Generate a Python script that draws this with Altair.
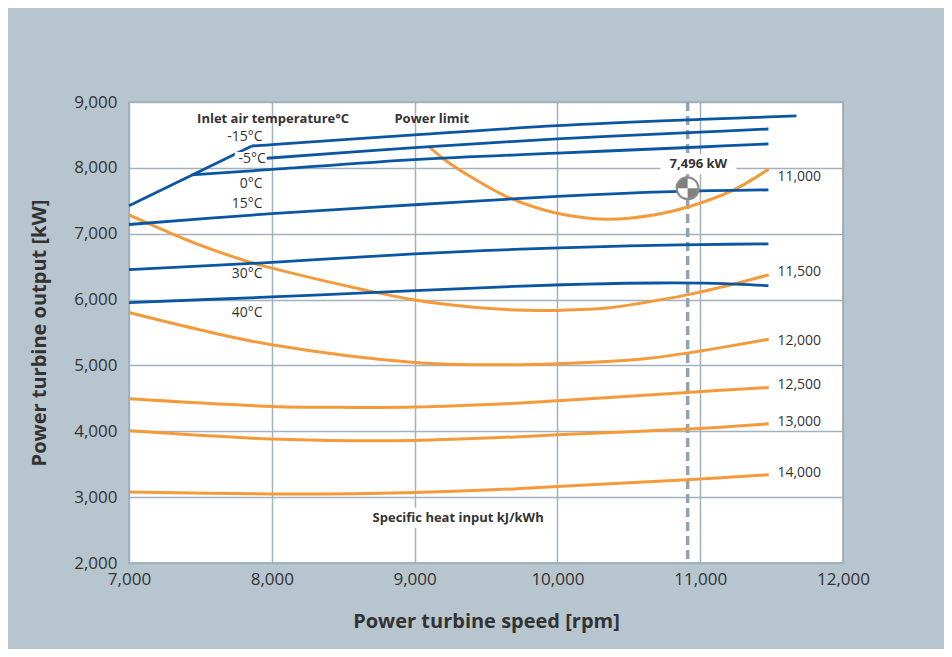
import altair as alt
import pandas as pd

# ---------------- data ----------------
# Low-temperature power limit segment (rpm, kW)
limit_rpm = [7000, 7860]
limit_kw = [7426, 8332]

# Inlet air temperature lines: power turbine speed [rpm] vs output [kW]
temp_names = ["-15°C", "-5°C", "0°C", "15°C", "30°C", "40°C"]
temp_rpm = [
    [7860, 8000, 9000, 10000, 11000, 11674],
    [7965, 9000, 10000, 11000, 11478],
    [7439, 8000, 9000, 10000, 11000, 11478],
    [7000, 8000, 9000, 10000, 10800, 11478],
    [7000, 8000, 9000, 9740, 10500, 11000, 11478],
    [7000, 8000, 9000, 9700, 10200, 10700, 11100, 11478],
]
temp_kw = [
    [8332, 8352, 8500, 8640, 8735, 8788],
    [8146, 8306, 8440, 8542, 8590],
    [7892, 7976, 8126, 8223, 8317, 8363],
    [7140, 7305, 7440, 7567, 7638, 7665],
    [6455, 6565, 6695, 6765, 6815, 6835, 6845],
    [5955, 6040, 6135, 6200, 6235, 6252, 6246, 6212],
]

# Specific heat input curves [kJ/kWh]
heat_names = ["11,000", "11,500", "12,000", "12,500", "13,000", "14,000"]
heat_rpm = [
    [9097, 9203, 9367, 9670, 9997, 10347, 10674, 10908, 11235, 11480],
    [7000, 7474, 7871, 8000, 8666, 9000, 9413, 9647, 9880, 10000, 10347, 10581, 10908, 11165, 11480],
    [7000, 7474, 8000, 9000, 9600, 10000, 10534, 10908, 11480],
    [7000, 8000, 8572, 9000, 9700, 10000, 10908, 11480],
    [7000, 8000, 8572, 9000, 9700, 10000, 10908, 11480],
    [7000, 8000, 8572, 9000, 9700, 10000, 10908, 11480],
]
heat_kw = [
    [8332, 8135, 7900, 7539, 7311, 7220, 7285, 7402, 7665, 7983],
    [7285, 6845, 6552, 6477, 6138, 5995, 5885, 5848, 5833, 5835, 5871, 5945, 6071, 6198, 6375],
    [5803, 5552, 5313, 5044, 5009, 5024, 5085, 5187, 5399],
    [4493, 4378, 4363, 4367, 4425, 4463, 4590, 4665],
    [4007, 3881, 3856, 3861, 3915, 3947, 4033, 4113],
    [3077, 3047, 3052, 3072, 3125, 3163, 3264, 3340],
]

# Curve end labels
heat_label_rpm = [11541, 11541, 11541, 11541, 11541, 11541]
heat_label_kw = [7864, 6420, 5373, 4706, 4144, 3370]

# Temperature labels
temp_label_rpm = [7936, 7958, 7936, 7936, 7936, 7936]
temp_label_kw = [8470, 8135, 7751, 7452, 6390, 5793]

# Annotations
header_texts = ["Inlet air temperature°C", "Power limit"]
header_rpm = [8009, 9120]
header_kw = [8740, 8740]

design_rpm = [10912]
design_kw = [7690]
design_text = ["7,496 kW"]
design_text_rpm = [10987]
design_text_kw = [8054]

sfc_text = ["Specific heat input kJ/kWh"]
sfc_rpm = [9305]
sfc_kw = [2687]

x_ticks = [7000, 8000, 9000, 10000, 11000, 12000]
y_ticks = [2000, 3000, 4000, 5000, 6000, 7000, 8000, 9000]

# ---------------- tables ----------------
rows = []
for n, xs, ys in zip(temp_names, temp_rpm, temp_kw):
    for i, (a, b) in enumerate(zip(xs, ys)):
        rows.append({"series": n, "rpm": a, "kw": b, "i": i})
temp_df = pd.DataFrame(rows)
limit_df = pd.DataFrame({"rpm": limit_rpm, "kw": limit_kw})

rows = []
for n, xs, ys in zip(heat_names, heat_rpm, heat_kw):
    for i, (a, b) in enumerate(zip(xs, ys)):
        rows.append({"series": n, "rpm": a, "kw": b, "i": i})
heat_df = pd.DataFrame(rows)

heat_lab_df = pd.DataFrame({"t": heat_names, "rpm": heat_label_rpm, "kw": heat_label_kw})
temp_lab_df = pd.DataFrame({"t": temp_names, "rpm": temp_label_rpm, "kw": temp_label_kw})
header_df = pd.DataFrame({"t": header_texts, "rpm": header_rpm, "kw": header_kw})
design_df = pd.DataFrame({"rpm": design_rpm, "kw": design_kw})
design_lab_df = pd.DataFrame({"t": design_text, "rpm": design_text_rpm, "kw": design_text_kw})
sfc_df = pd.DataFrame({"t": sfc_text, "rpm": sfc_rpm, "kw": sfc_kw})

FONT = "Open Sans"
TXT = "#333333"
BLUE = "#0b56a2"
ORANGE = "#f59a3a"
GRID = "#a2b2bd"

xscale = alt.Scale(domain=[7000, 12000], nice=False, zero=False)
yscale = alt.Scale(domain=[2000, 9000], nice=False, zero=False)

X = alt.X(
    "rpm:Q", scale=xscale,
    axis=alt.Axis(
        values=x_ticks, format=",.0f", grid=True, gridColor=GRID, gridWidth=1.5,
        domain=False, ticks=False, labelFont=FONT, labelFontSize=17, labelColor=TXT,
        labelPadding=8, labelFlush=False,
        title="Power turbine speed [rpm]", titleFont=FONT, titleFontSize=20,
        titleFontWeight="bold", titleColor=TXT, titlePadding=24,
    ),
)
Y = alt.Y(
    "kw:Q", scale=yscale,
    axis=alt.Axis(
        values=y_ticks, format=",.0f", grid=True, gridColor=GRID, gridWidth=1.5,
        domain=False, ticks=False, labelFont=FONT, labelFontSize=17, labelColor=TXT,
        labelPadding=12, labelFlush=False,
        title="Power turbine output [kW]", titleFont=FONT, titleFontSize=20,
        titleFontWeight="bold", titleColor=TXT, titlePadding=24,
    ),
)

heat_lines = alt.Chart(heat_df).mark_line(
    color=ORANGE, strokeWidth=3, interpolate="catmull-rom"
).encode(x=X, y=Y, detail="series:N", order="i:Q")

temp_lines = alt.Chart(temp_df).mark_line(
    color=BLUE, strokeWidth=2.8, interpolate="catmull-rom"
).encode(x=X, y=Y, detail="series:N", order="i:Q")

limit_line = alt.Chart(limit_df).mark_line(
    color=BLUE, strokeWidth=2.8
).encode(x=X, y=Y)

dash_rule = alt.Chart(design_df).mark_rule(
    color="#8fa3b0", strokeWidth=3.5, strokeDash=[9, 5]
).encode(x=X)

heat_labels = alt.Chart(heat_lab_df).mark_text(
    align="left", baseline="middle", font=FONT, fontSize=14, color=TXT
).encode(x=X, y=Y, text="t:N")

temp_bg = alt.Chart(temp_lab_df.iloc[[1]]).mark_rect(
    color="white", width=30, height=14, xOffset=-16
).encode(x=X, y=Y)

temp_labels = alt.Chart(temp_lab_df).mark_text(
    align="right", baseline="middle", font=FONT, fontSize=14, color=TXT
).encode(x=X, y=Y, text="t:N")

header_labels = alt.Chart(header_df).mark_text(
    align="center", baseline="middle", font=FONT, fontSize=13, fontWeight="bold", color=TXT
).encode(x=X, y=Y, text="t:N")

design_bg = alt.Chart(design_lab_df).mark_rect(
    color="white", width=76, height=20
).encode(x=X, y=Y)
design_label = alt.Chart(design_lab_df).mark_text(
    align="center", baseline="middle", font=FONT, fontSize=13, fontWeight="bold", color=TXT
).encode(x=X, y=Y, text="t:N")

sfc_bg = alt.Chart(sfc_df).mark_rect(
    color="white", width=196, height=20
).encode(x=X, y=Y)
sfc_label = alt.Chart(sfc_df).mark_text(
    align="center", baseline="middle", font=FONT, fontSize=13, fontWeight="bold", color=TXT
).encode(x=X, y=Y, text="t:N")

marker_bg = alt.Chart(design_df).mark_point(
    shape="circle", size=470, filled=True, fill="white", opacity=1
).encode(x=X, y=Y)
marker_q1 = alt.Chart(design_df).mark_arc(
    theta=4.712389, theta2=6.283185, radius=12, color="#808080"
).encode(x=X, y=Y)
marker_q2 = alt.Chart(design_df).mark_arc(
    theta=1.570796, theta2=3.141593, radius=12, color="#808080"
).encode(x=X, y=Y)
marker_ring = alt.Chart(design_df).mark_point(
    shape="circle", size=470, filled=False, stroke="#8a8a8a", strokeWidth=2, opacity=1
).encode(x=X, y=Y)

chart = alt.layer(
    dash_rule, heat_lines, limit_line, temp_lines, temp_bg, temp_labels, header_labels,
    heat_labels, design_bg, design_label, sfc_bg, sfc_label,
    marker_bg, marker_q1, marker_q2, marker_ring,
).properties(
    width=714, height=461, background="#b7c5ce",
    padding={"left": 121, "top": 94, "right": 101, "bottom": 86},
    autosize=alt.AutoSizeParams(type="none"),
).configure_view(fill="white", stroke=GRID, strokeWidth=2)

chart.save("out.html", embed_options={"renderer": "svg", "actions": False})
